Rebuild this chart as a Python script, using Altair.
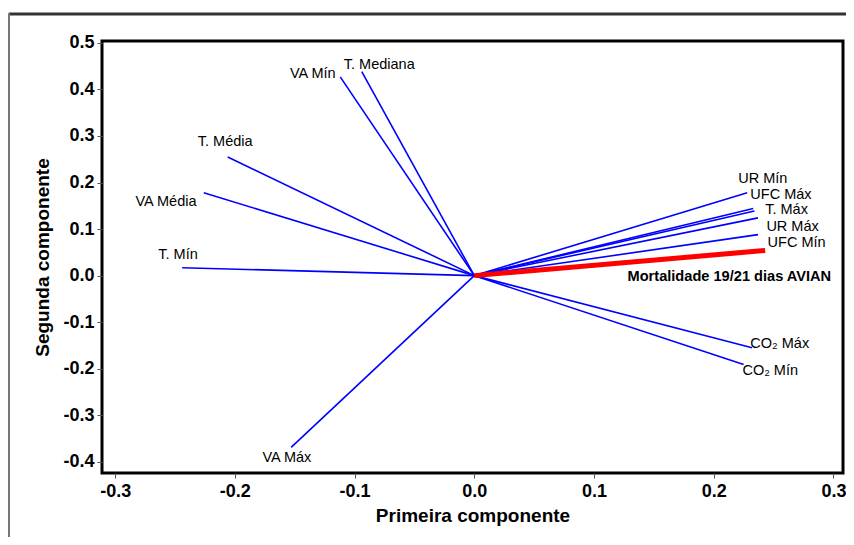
import altair as alt
import pandas as pd

# Loadings (first, second component)
names = ["T. Mediana", "VA Mín", "T. Média", "VA Média", "T. Mín", "VA Máx",
         "UR Mín", "UFC Máx", "T. Máx", "UR Máx", "UFC Mín",
         "CO₂ Máx", "CO₂ Mín", "Mortalidade 19/21 dias AVIAN"]
pc1 = [-0.094, -0.112, -0.206, -0.226, -0.244, -0.153,
       0.228, 0.233, 0.234, 0.237, 0.237,
       0.232, 0.225, 0.243]
pc2 = [0.438, 0.427, 0.255, 0.178, 0.017, -0.369,
       0.178, 0.144, 0.139, 0.124, 0.088,
       -0.155, -0.191, 0.054]
group = ["var"] * 13 + ["resp"]

# label anchors (left edge of text), data units
lab_x = [-0.109, -0.154, -0.231, -0.283, -0.264, -0.177,
         0.2205, 0.2306, 0.243, 0.244, 0.245,
         0.2306, 0.224, 0.128]
lab_y = [0.453, 0.433, 0.288, 0.159, 0.045, -0.391,
         0.208, 0.174, 0.141, 0.105, 0.071,
         -0.146, -0.204, -0.002]

x_ticks = [-0.3, -0.2, -0.1, 0.0, 0.1, 0.2, 0.3]
y_ticks = [0.5, 0.4, 0.3, 0.2, 0.1, 0.0, -0.1, -0.2, -0.3, -0.4]

df = pd.DataFrame({"name": names, "pc1": pc1, "pc2": pc2, "group": group,
                   "x0": [0.0] * len(names), "y0": [0.0] * len(names),
                   "lx": lab_x, "ly": lab_y})

FONT = "Liberation Sans"
lbl_expr = "replace(format(datum.value, '.1f'), '\u2212', '-')"

xs = alt.Scale(domain=[-0.311, 0.308], nice=False, zero=False)
ys = alt.Scale(domain=[-0.424, 0.504], nice=False, zero=False)

xaxis = alt.Axis(values=x_ticks, labelExpr=lbl_expr, title="Primeira componente",
                 grid=False, domain=False, tickSize=5, tickColor="#555",
                 labelFont=FONT, labelFontSize=18, labelFontWeight="bold", labelColor="black",
                 labelPadding=4, titleFont=FONT, titleFontSize=19, titleFontWeight="bold",
                 titleColor="black", titlePadding=6)
yaxis = alt.Axis(values=y_ticks, labelExpr=lbl_expr, title="Segunda componente",
                 grid=False, domain=False, tickSize=5, tickColor="#555",
                 labelFont=FONT, labelFontSize=18, labelFontWeight="bold", labelColor="black",
                 labelPadding=3, titleFont=FONT, titleFontSize=19, titleFontWeight="bold",
                 titleColor="black", titlePadding=10)

base = alt.Chart(df)

blue = base.transform_filter(alt.datum.group == "var").mark_rule(
    color="#0000ff", strokeWidth=1.6).encode(
    x=alt.X("x0:Q", scale=xs, axis=xaxis),
    y=alt.Y("y0:Q", scale=ys, axis=yaxis),
    x2="pc1:Q", y2="pc2:Q")

red = base.transform_filter(alt.datum.group == "resp").mark_rule(
    color="#ff0000", strokeWidth=5).encode(
    x=alt.X("x0:Q", scale=xs), y=alt.Y("y0:Q", scale=ys),
    x2="pc1:Q", y2="pc2:Q")

labels_var = base.transform_filter(alt.datum.group == "var").mark_text(
    align="left", baseline="middle", font=FONT, fontSize=14.5, color="black").encode(
    x=alt.X("lx:Q", scale=xs), y=alt.Y("ly:Q", scale=ys), text="name:N")

labels_resp = base.transform_filter(alt.datum.group == "resp").mark_text(
    align="left", baseline="middle", font=FONT, fontSize=14.6, fontWeight="bold",
    color="black").encode(
    x=alt.X("lx:Q", scale=xs), y=alt.Y("ly:Q", scale=ys), text="name:N")

# outer picture border (decorative)
border_top = alt.Chart(pd.DataFrame({"k": [0]})).mark_rule(
    color="#333", strokeWidth=3, clip=False).encode(
    x=alt.value(-93), x2=alt.value(760), y=alt.value(-27))
border_left = alt.Chart(pd.DataFrame({"k": [0]})).mark_rule(
    color="#777", strokeWidth=2, clip=False).encode(
    x=alt.value(-93), y=alt.value(-28), y2=alt.value(520))

chart = alt.layer(blue, red, labels_var, labels_resp, border_top, border_left).properties(
    width=741, height=432,
    autosize=alt.AutoSizeParams(type="none"),
    padding={"left": 94, "top": 33, "right": 3, "bottom": 64},
    background="white",
).configure_view(stroke="black", strokeWidth=3)

chart.save("out.html", embed_options={"renderer": "svg", "actions": False})
